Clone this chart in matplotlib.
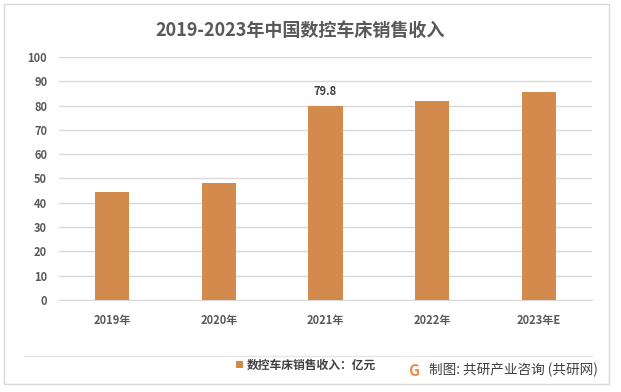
import matplotlib
matplotlib.use("Agg")
import matplotlib.pyplot as plt
from matplotlib.patches import Rectangle
from matplotlib.lines import Line2D

plt.rcParams['font.family'] = ['Noto Sans CJK SC', 'DejaVu Sans']

# data
years = ["2019年", "2020年", "2021年", "2022年", "2023年E"]
revenue = [44.6, 48.0, 79.8, 82.0, 85.6]
shown_labels = ["", "", "79.8", "", ""]
series_name = "数控车床销售收入：亿元"
title = "2019-2023年中国数控车床销售收入"
source = "制图: 共研产业咨询 (共研网)"

bar_color = "#d38b4d"
grid_color = "#d9d9d9"
text_color = "#595959"
dark_text = "#404040"

W, H = 621, 392
fig = plt.figure(figsize=(W / 100, H / 100), dpi=100)
ax = fig.add_axes([59 / W, 1 - 300 / H, (592 - 59) / W, (300 - 57) / H])

x = range(len(years))
bars = ax.bar(x, revenue, width=0.32, color=bar_color, label=series_name, zorder=3)
ax.bar_label(bars, labels=shown_labels, padding=6, fontsize=8, fontweight="bold",
             color=dark_text)

ax.set_xlim(-0.5, len(years) - 0.5)
ax.set_ylim(0, 100)
ax.set_yticks(range(0, 101, 10))
ax.set_xticks(list(x))
ax.set_xticklabels(years)
ax.yaxis.grid(True, color=grid_color, linewidth=1)
ax.set_axisbelow(True)
for s in ["top", "right", "left"]:
    ax.spines[s].set_visible(False)
ax.spines["bottom"].set_color(grid_color)
ax.tick_params(axis="both", length=0, labelsize=8, labelcolor=text_color)
ax.tick_params(axis="x", pad=10)
ax.tick_params(axis="y", pad=8.5)
for lab in ax.get_xticklabels() + ax.get_yticklabels():
    lab.set_fontweight("bold")

fig.text(300 / W, 1 - 30 / H, title, ha="center", va="center", fontsize=13,
         fontweight="bold", color=text_color)

# outer frame and footer separator
fig.add_artist(Rectangle((4 / W, 1 - 384 / H), 605 / W, 380 / H, transform=fig.transFigure,
                         fill=False, edgecolor=grid_color, linewidth=1))
fig.add_artist(Line2D([24 / W, 592 / W], [1 - 356 / H] * 2, transform=fig.transFigure,
                      color="#e6e6e6", linewidth=1))

leg = fig.legend(handles=[bars], labels=[series_name], loc="center left",
                 bbox_to_anchor=(236 / W, 1 - 365 / H), frameon=False,
                 handlelength=0.6, handleheight=0.6, handletextpad=0.3,
                 borderpad=0, borderaxespad=0,
                 prop={"size": 8.5, "weight": "bold"})
for t in leg.get_texts():
    t.set_color(dark_text)

fig.text(414 / W, 1 - 371 / H, "G", ha="center", va="center", fontsize=11,
         fontweight="bold", color="#f0884a")
fig.text(429 / W, 1 - 370 / H, source, ha="left", va="center", fontsize=9.8,
         color=dark_text)

fig.savefig("out.png", dpi=100)
